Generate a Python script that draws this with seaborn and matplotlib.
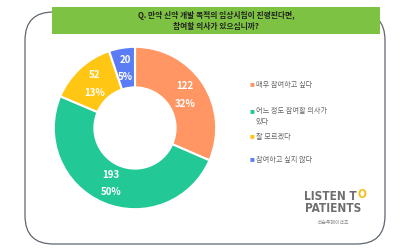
import numpy as np
import seaborn as sns
import matplotlib.pyplot as plt
from matplotlib.patches import FancyBboxPatch, Rectangle

# Data

answers = ['매우 참여하고 싶다', '어느 정도 참여할 의사가\n있다', '잘 모르겠다', '참여하고 싶지 않다']
counts = [122, 193, 52, 20]
slice_colors = ['#FF9664', '#22C996', '#FFC714', '#5A7DF5']
title_lines = ['Q. 만약 신약 개발 목적의 임상시험이 진행된다면,', '참여할 의사가 있으십니까?']

sns.set_style('white')
plt.rcParams['font.family'] = ['Noto Sans CJK KR', 'DejaVu Sans']

W, H = 405, 250
fig = plt.figure(figsize=(W / 100, H / 100), dpi=100)
fig.patch.set_facecolor('white')

# Rounded card border
card = FancyBboxPatch((25 / W, 6 / H), 360 / W, 232 / H,
                      boxstyle='round,pad=0,rounding_size=0.07',
                      transform=fig.transFigure, facecolor='none',
                      edgecolor='#5f6670', linewidth=0.9, mutation_aspect=W / H,
                      zorder=-1)
fig.patches.append(card)

# Green title banner
banner = Rectangle((52 / W, 1 - 34 / H), 328 / W, 27 / H, transform=fig.transFigure,
                   facecolor='#7DC242', edgecolor='none', zorder=-1)
fig.patches.append(banner)
fig.text(216 / W, 1 - 15 / H, title_lines[0], ha='center', va='center',
         fontsize=5.6, fontweight='bold', color='#222222')
fig.text(216 / W, 1 - 27 / H, title_lines[1], ha='center', va='center',
         fontsize=5.6, fontweight='bold', color='#222222')

# Donut
cx, cy, r = 135, 128, 82
ax = fig.add_axes([(cx - r) / W, (H - cy - r) / H, 2 * r / W, 2 * r / H])
total = sum(counts)


def fmt(pct):
    val = int(round(pct * total / 100))
    return f'{val}\n{pct:.0f}%'


wedges, texts, autotexts = ax.pie(
    counts, colors=slice_colors, startangle=90, counterclock=False,
    autopct=fmt, pctdistance=0.74,
    wedgeprops=dict(width=0.5, edgecolor='white', linewidth=1.5),
    textprops=dict(color='white', fontsize=7, fontweight='bold', linespacing=1.9))
ax.set_xlim(-1.01, 1.01)
ax.set_ylim(-1.01, 1.01)
ax.set_aspect('equal')
ax.axis('off')

# Legend
leg_y = [85, 112, 137, 160]
for ans, col, y in zip(answers, slice_colors, leg_y):
    fig.text(250 / W, 1 - y / H, '■', color=col, fontsize=3.5, ha='left', va='center')
    fig.text(256 / W, 1 - (y - 5 if '\n' in ans else y) / H, ans, color='#666666',
             fontsize=5.2, ha='left', va='top' if '\n' in ans else 'center',
             linespacing=1.5)

# Logo
logo_font = dict(fontsize=8.5, fontweight='bold', family='DejaVu Sans',
                 fontstretch='condensed')
fig.text(304 / W, 1 - 196 / H, 'LISTEN T', color='#6e6e6e', ha='left',
         va='center', **logo_font)
fig.text(357 / W, 1 - 194 / H, 'O', color='#F2C21B', ha='left', va='center',
         **logo_font)
fig.text(333 / W, 1 - 208 / H, 'PATIENTS', color='#6e6e6e', ha='center',
         va='center', **logo_font)
fig.text(333 / W, 1 - 222 / H, '리슨투페이션츠', color='#888888', fontsize=3.5,
         ha='center', va='center')

plt.savefig('out.png', dpi=100)
